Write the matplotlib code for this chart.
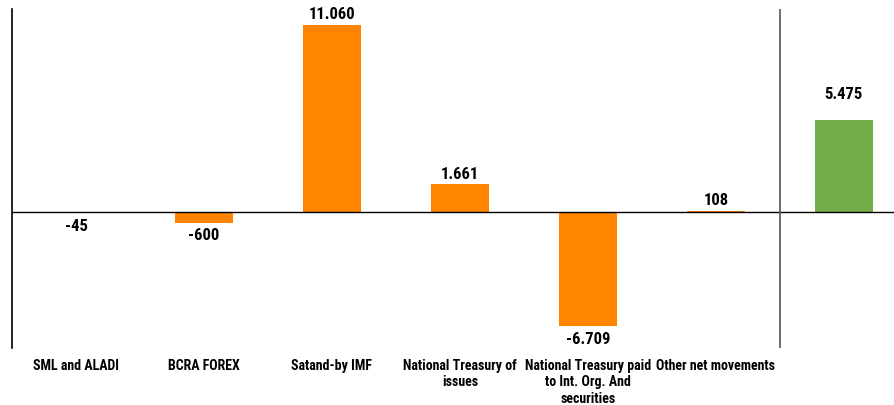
import matplotlib.pyplot as plt
from matplotlib import font_manager

# ------------------------------------------------------------
# data (USD millions)
# ------------------------------------------------------------
CATEGORIES = [
    "SML and ALADI",
    "BCRA FOREX",
    "Satand-by IMF",
    "National Treasury of\nissues",
    "National Treasury paid\nto Int. Org. And\nsecurities",
    "Other net movements",
    "",
]
VALUES = [-45, -600, 11060, 1661, -6709, 108, 5475]
IS_TOTAL = [False, False, False, False, False, False, True]

ORANGE = "#FF8500"
GREEN = "#70AD47"

FONT = ["Roboto Condensed", "Liberation Sans Narrow", "Roboto", "DejaVu Sans"]
available = {f.name for f in font_manager.fontManager.ttflist}
FONT = [f for f in FONT if f in available] or ["DejaVu Sans"]
plt.rcParams["font.family"] = FONT


def fmt(v):
    # dot as thousands separator
    return f"{v:,}".replace(",", ".")


fig = plt.figure(figsize=(8.95, 4.05), dpi=100)
ax = fig.add_axes([12 / 895, 1 - 348 / 405, 883 / 895, 339 / 405])

x = list(range(len(VALUES)))
colors = [GREEN if t else ORANGE for t in IS_TOTAL]
ax.bar(x, VALUES, width=0.45, color=colors, zorder=2)

ax.set_xlim(-0.5, 6.4)
ax.set_ylim(-8000, 12000)

ax.axhline(0, color="black", linewidth=1, zorder=3)
ax.axvline(5.5, color="#555555", linewidth=1.2, zorder=3)

for xi, v, t in zip(x, VALUES, IS_TOTAL):
    if v >= 0:
        off = 1060 if t else 150
        ax.text(xi, v + off, fmt(v), ha="center", va="bottom",
                fontsize=12, fontweight="bold", zorder=4)
    else:
        ax.text(xi, v - 330, fmt(v), ha="center", va="top",
                fontsize=12, fontweight="bold", zorder=4)

ax.set_xticks(x)
ax.set_xticklabels(CATEGORIES, fontsize=10, fontweight="bold",
                   multialignment="center")
ax.tick_params(axis="x", length=0, pad=8)
ax.set_yticks([])

for side in ["top", "right", "bottom"]:
    ax.spines[side].set_visible(False)
ax.spines["left"].set_linewidth(1.2)

fig.savefig("out.png", dpi=100)
